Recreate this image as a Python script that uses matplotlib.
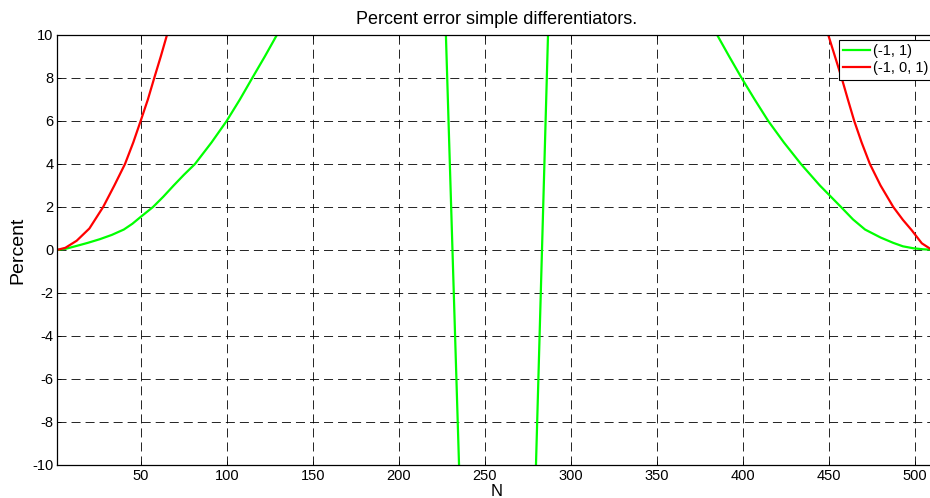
import numpy as np
import matplotlib

matplotlib.use("Agg")
import matplotlib.pyplot as plt

# values (NaN breaks the line where it leaves the box)
n_green = [1, 6, 12.6, 19, 26, 33, 40, 45, 50, 57, 63, 69, 75, 81.4, 91, 99.8, 107.5, 114.7, 122, 129, 136,
           np.nan, 226.9, 235.3, np.nan, 279.3, 287.0, np.nan,
           378, 385, 392, 399.2, 406.8, 414.7, 423.8, 433.7, 444.7, 457, 464, 471, 480, 487.4, 493, 499, 505, 512]
pct_green = [0.0, 0.05, 0.19, 0.33, 0.5, 0.7, 0.95, 1.22, 1.55, 2.0, 2.48, 3.0, 3.5, 4.0, 5.0, 6.0, 7.0, 8.0, 9.0, 10.0, 11.0,
             np.nan, 11.0, -11.0, np.nan, -11.0, 11.0, np.nan,
             11.0, 10.0, 9.0, 8.0, 7.0, 6.0, 5.0, 4.0, 3.0, 2.0, 1.42, 0.95, 0.58, 0.33, 0.17, 0.08, 0.03, 0.0]

n_red = [1, 6, 12.6, 20, 28, 34.5, 40.7, 45.5, 50, 54, 57.7, 61.5, 65.1, 69,
         np.nan, 446, 449.6, 453.5, 457.4, 461, 464.7, 469, 473.8, 480, 487.4, 493, 498, 504, 509, 512]
pct_red = [0.0, 0.1, 0.43, 1.0, 2.0, 3.0, 4.0, 5.0, 6.05, 7.0, 8.0, 9.0, 10.0, 11.0,
           np.nan, 11.0, 10.0, 9.0, 8.0, 7.0, 6.0, 5.0, 4.0, 3.0, 2.0, 1.4, 0.93, 0.31, 0.05, 0.0]

x_ticks = [50, 100, 150, 200, 250, 300, 350, 400, 450, 500]
y_ticks = [-10, -8, -6, -4, -2, 0, 2, 4, 6, 8, 10]

plt.rcParams["font.family"] = ["Liberation Sans", "DejaVu Sans"]
plt.rcParams["font.size"] = 10.5
plt.rcParams["axes.unicode_minus"] = False
plt.rcParams["lines.scale_dashes"] = False

fig = plt.figure(figsize=(9.30, 4.98), dpi=100)
# the reference is cropped on the right, so the axes run a little past the figure edge
ax = fig.add_axes([0.061, 0.0663, 0.945, 0.8635])

ax.plot(n_green, pct_green, color="#00ff00", linewidth=1.6, label="(-1, 1)")
ax.plot(n_red, pct_red, color="#ff0000", linewidth=1.6, label="(-1, 0, 1)")

ax.set_xlim(1, 512)
ax.set_ylim(-10, 10)
ax.set_xticks(x_ticks)
ax.set_yticks(y_ticks)
ax.tick_params(direction="in", length=3, width=0.6, top=True, right=True, pad=3)
ax.tick_params(axis="y", pad=2.5)
ax.grid(True, color="black", linestyle=(0, (6.5, 3.6)), linewidth=0.6)
for s in ax.spines.values():
    s.set_linewidth(0.9)

ax.set_title("Percent error simple differentiators.", fontsize=13, pad=8)
ax.set_xlabel("N", fontsize=12, va="baseline")
# put the baseline of "N" about 1px above the bottom edge, as in the reference
ax.xaxis.set_label_coords(0.5, -(496 - 465) / 430)
ax.set_ylabel("Percent", fontsize=14, labelpad=4)

leg = ax.legend(loc="upper left", bbox_to_anchor=(839 / 930, 1 - 40 / 498),
                bbox_transform=fig.transFigure, fancybox=False, framealpha=1,
                edgecolor="black", borderpad=0.3, handlelength=1.85,
                handletextpad=0.2, labelspacing=0.2, borderaxespad=0)
leg.get_frame().set_linewidth(0.8)

fig.savefig("out.png", dpi=100)
